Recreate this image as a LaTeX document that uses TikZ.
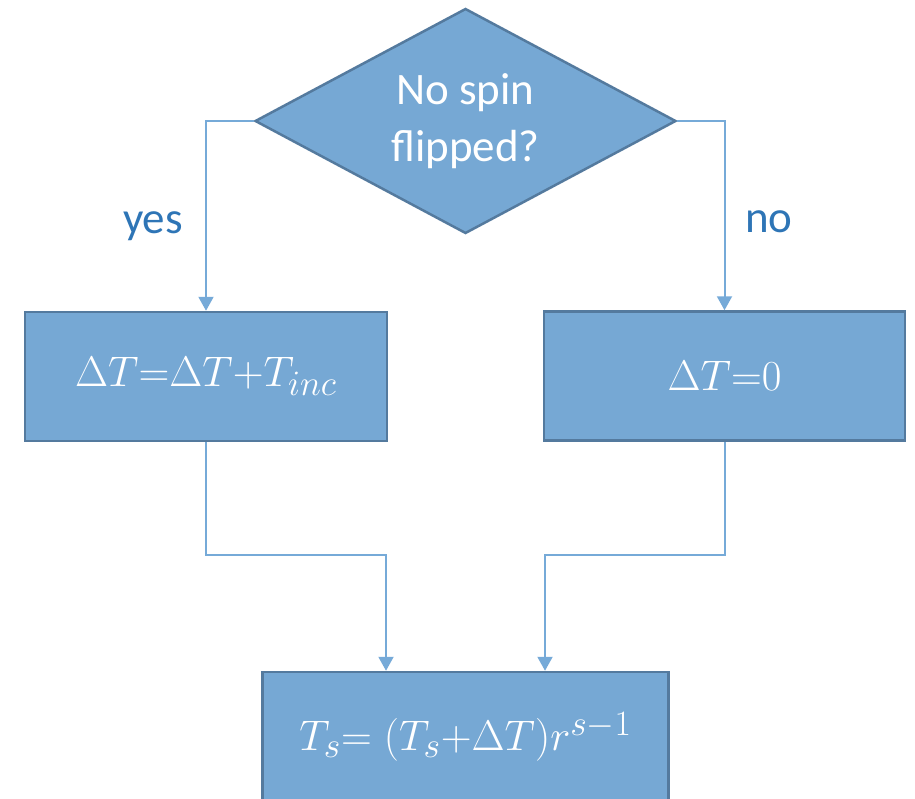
\documentclass[tikz,border=0pt]{standalone}
\usepackage{graphicx}
\usepackage{fontspec}
\setmainfont{Carlito}
\usetikzlibrary{shapes.geometric,arrows.meta}
\definecolor{boxfill}{RGB}{118,168,212}
\definecolor{boxline}{RGB}{84,122,158}
\definecolor{connc}{RGB}{118,170,216}
\definecolor{labc}{RGB}{46,117,182}
\newcommand{\bigmath}[1]{\scalebox{1.72}{\fontsize{24.88}{30}\selectfont$#1$}}
\begin{document}
\begin{tikzpicture}[x=1pt,y=-1pt,
  box/.style={rectangle, draw=boxline, fill=boxfill, line width=2.5pt, inner sep=0pt,
    text=white},
  decision/.style={diamond, draw=boxline, fill=boxfill, line width=2.5pt, inner sep=0pt,
    aspect=1.87, minimum width=421pt, minimum height=225pt, text=white, align=center,
    font=\fontsize{45}{57}\selectfont},
  conn/.style={draw=connc, line width=2pt, -{Triangle[width=15pt,length=14pt]}},
  lab/.style={text=labc, anchor=base, inner sep=0pt, font=\fontsize{45}{54}\selectfont}]
\useasboundingbox (0,0) rectangle (915,798);
\clip (0,0) rectangle (915,798);

\node[decision] (d) at (465.5,121) {No spin\\flipped?};
\node[box, minimum width=362pt, minimum height=129pt] (l) at (206,376.5) {\bigmath{\Delta T{=}\Delta T{+}T_{inc}}};
\node[box, minimum width=361pt, minimum height=129pt] (r) at (724.5,376) {\bigmath{\Delta T{=}0}};
\node[box, minimum width=406pt, minimum height=130pt] (b) at (465.5,737) {\bigmath{T_s{=}\;(T_s{+}\Delta T)r^{s-1}}};

\node[lab] (yes) at (153,233) {yes};
\node[lab] (no) at (769,232) {no};

\coordinate (mid) at (465.5,555);
\coordinate (bin1) at ([xshift=-79.5pt]b.north);
\coordinate (bin2) at ([xshift=79.5pt]b.north);

\draw[conn] (d.west) -| (l.north);
\draw[conn] (d.east) -| (r.north);
\draw[conn] (l.south) -- (l.south |- mid) -| (bin1);
\draw[conn] (r.south) -- (r.south |- mid) -| (bin2);
\end{tikzpicture}
\end{document}
